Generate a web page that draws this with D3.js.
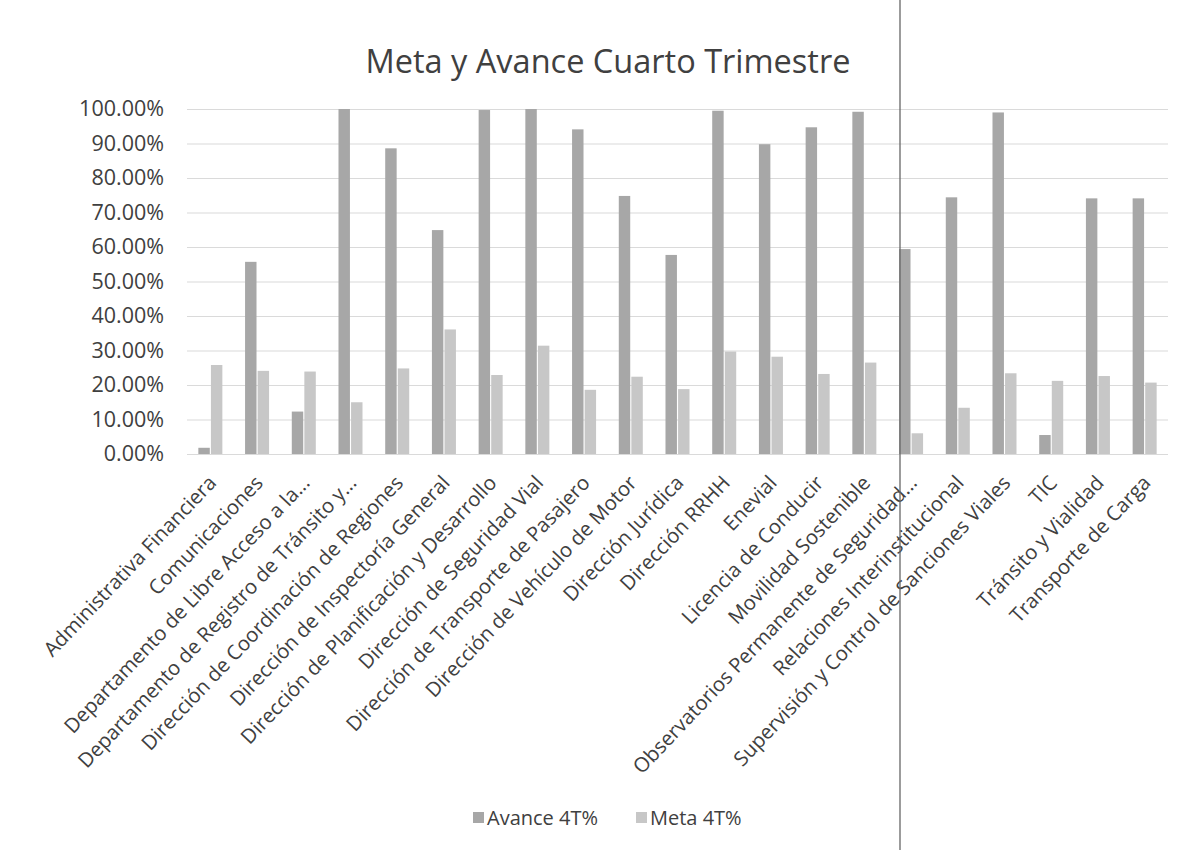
<!DOCTYPE html>
<html>
<head>
<meta charset="utf-8">
<script src="https://cdn.jsdelivr.net/npm/d3@7"></script>
<style>
  body { margin: 0; background: #fff; }
  svg { display: block; }
  .tick text { fill: #404040; }
</style>
</head>
<body>
<svg id="chart" width="1182" height="850"></svg>
<script>
const categories = [
  'Administrativa Financiera',
  'Comunicaciones',
  'Departamento de Libre Acceso a la...',
  'Departamento de Registro de Tránsito y...',
  'Dirección de Coordinación de Regiones',
  'Dirección de Inspectoría General',
  'Dirección de Planificación y Desarrollo',
  'Dirección de Seguridad Vial',
  'Dirección de Transporte de Pasajero',
  'Dirección de Vehículo de Motor',
  'Dirección Jurídica',
  'Dirección RRHH',
  'Enevial',
  'Licencia de Conducir',
  'Movilidad Sostenible',
  'Observatorios Permanente de Seguridad...',
  'Relaciones Interinstitucional',
  'Supervisión y Control de Sanciones Viales',
  'TIC',
  'Tránsito y Vialidad',
  'Transporte de Carga'
];
const avance = [0.018, 0.557, 0.123, 1.0, 0.886, 0.649, 0.997, 1.0, 0.941, 0.748, 0.577,
  0.995, 0.898, 0.947, 0.992, 0.594, 0.744, 0.99, 0.055, 0.741, 0.741];
const meta = [0.258, 0.241, 0.239, 0.15, 0.248, 0.361, 0.229, 0.314, 0.186, 0.224, 0.188,
  0.297, 0.282, 0.232, 0.265, 0.06, 0.134, 0.234, 0.212, 0.226, 0.207];
const seriesNames = ['Avance 4T%', 'Meta 4T%'];
const yTicks = [0, 0.1, 0.2, 0.3, 0.4, 0.5, 0.6, 0.7, 0.8, 0.9, 1.0];

const colors = ['#a7a7a7', '#c7c7c7'];
const font = '"Open Sans", Lato, sans-serif';

let svg = d3.select('#chart'),
  plotLeft = 187, plotRight = 1168, plotTop = 109, plotBottom = 454;

let x = d3.scaleBand()
  .domain(categories)
  .range([plotLeft, plotRight])
  .paddingInner(0.486)
  .paddingOuter(0.243);

let x1 = d3.scaleBand()
  .domain(seriesNames)
  .range([0, x.bandwidth()])
  .paddingInner(0.09);

let y = d3.scaleLinear()
  .domain([0, 1])
  .range([plotBottom, plotTop]);

// gridlines
svg.append('g')
  .attr('transform', 'translate(' + plotLeft + ',0)')
  .call(d3.axisLeft(y).tickValues(yTicks).tickSize(-(plotRight - plotLeft)).tickFormat(''))
  .call(g => g.select('.domain').remove())
  .call(g => g.selectAll('line').attr('stroke', '#dadada').attr('stroke-width', 1.2));

// y labels
svg.append('g')
  .attr('transform', 'translate(' + (plotLeft - 20) + ',0)')
  .call(d3.axisLeft(y).tickValues(yTicks).tickSize(0).tickFormat(d3.format('.2%')))
  .call(g => g.select('.domain').remove())
  .call(g => g.selectAll('text')
    .style('font-family', font)
    .style('font-size', '21.5px'));

// bars
let groups = svg.append('g')
  .selectAll('g')
  .data(categories)
  .join('g')
  .attr('transform', d => 'translate(' + x(d) + ',0)');

groups.selectAll('rect')
  .data((d, i) => [avance[i], meta[i]].map((v, j) => ({ key: seriesNames[j], value: v, j: j })))
  .join('rect')
  .attr('x', d => x1(d.key))
  .attr('width', x1.bandwidth())
  .attr('y', d => y(d.value))
  .attr('height', d => y(0) - y(d.value))
  .attr('fill', d => colors[d.j]);

// x labels
svg.append('g')
  .attr('transform', 'translate(0,' + plotBottom + ')')
  .call(d3.axisBottom(x).tickSize(0))
  .call(g => g.select('.domain').remove())
  .call(g => g.selectAll('text')
    .style('font-family', font)
    .style('font-size', '20.3px')
    .attr('text-anchor', 'end')
    .attr('dy', '0.35em')
    .attr('transform', 'translate(2,25) rotate(-46.5)')
    .attr('y', 0)
    .attr('x', 0));

// title
svg.append('text')
  .attr('x', 608)
  .attr('y', 73)
  .attr('text-anchor', 'middle')
  .style('font-family', font)
  .style('font-size', '32.5px')
  .attr('fill', '#404040')
  .text('Meta y Avance Cuarto Trimestre');

// legend
let legend = svg.append('g')
  .attr('transform', 'translate(473,818)');
let legendX = [0, 163];
seriesNames.forEach(function(name, i) {
  let item = legend.append('g').attr('transform', 'translate(' + legendX[i] + ',0)');
  item.append('rect')
    .attr('x', 0).attr('y', -6)
    .attr('width', 11).attr('height', 11)
    .attr('fill', colors[i]);
  item.append('text')
    .attr('x', 14)
    .attr('y', 0)
    .attr('dy', '0.35em')
    .style('font-family', font)
    .style('font-size', '20px')
    .attr('fill', '#404040')
    .text(name);
});

// scan fold line
svg.append('line')
  .attr('x1', 900).attr('x2', 900)
  .attr('y1', 0).attr('y2', 850)
  .attr('stroke', '#666')
  .attr('stroke-width', 1.3);
</script>
</body>
</html>
